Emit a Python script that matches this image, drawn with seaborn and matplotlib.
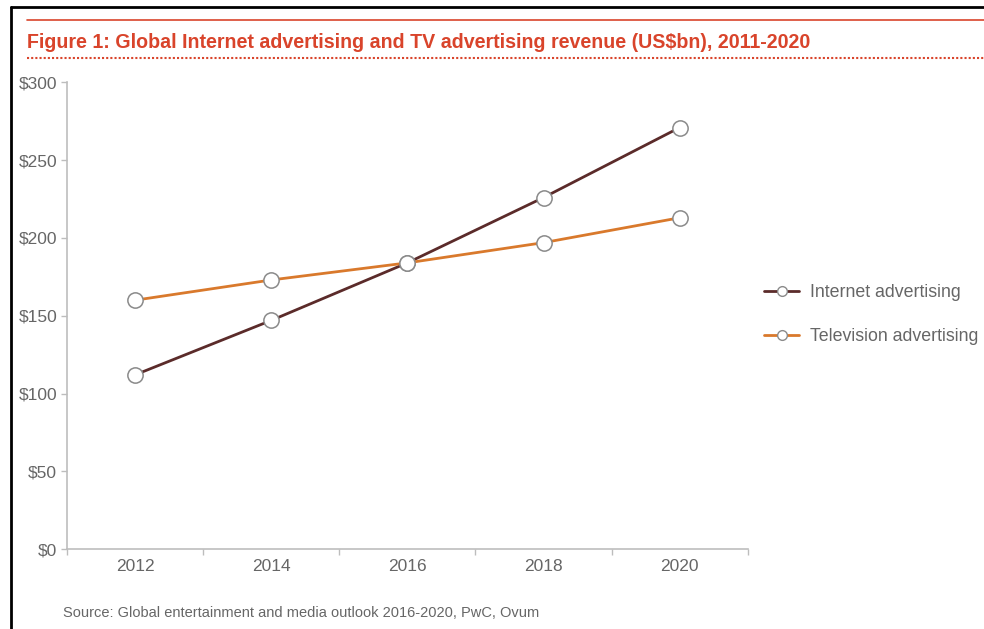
import pandas as pd
import matplotlib
matplotlib.use("Agg")
import matplotlib.pyplot as plt
from matplotlib.lines import Line2D
from matplotlib.ticker import FixedLocator
import seaborn as sns

years = ["2012", "2014", "2016", "2018", "2020"]
internet = [112, 147, 184, 226, 271]
television = [160, 173, 184, 197, 213]
series_names = ["Internet advertising", "Television advertising"]
y_ticks = [0, 50, 100, 150, 200, 250, 300]

df = pd.DataFrame({
    "year": years * 2,
    "revenue": internet + television,
    "series": [series_names[0]] * len(years) + [series_names[1]] * len(years),
})

sns.set_style("white")
plt.rcParams["font.family"] = ["Liberation Sans", "DejaVu Sans"]

colors = {"Internet advertising": "#5b2b2a", "Television advertising": "#d9792c"}
red = "#d9442b"
grey_text = "#666666"
axis_grey = "#bdbdbd"

fig = plt.figure(figsize=(9.84, 6.29), dpi=100)
ax = fig.add_axes([0.068, 0.127, 0.692, 0.742])

sns.lineplot(data=df, x="year", y="revenue", hue="series", palette=colors,
             marker="o", markersize=11, markerfacecolor="white",
             markeredgecolor="#8a8a8a", markeredgewidth=1.1,
             linewidth=2, ax=ax, legend=False, sort=False)

ax.set_xlim(-0.5, 4.5)
ax.set_ylim(0, 300)
ax.set_yticks(y_ticks)
ax.set_yticklabels([f"${v}" for v in y_ticks])
ax.xaxis.set_minor_locator(FixedLocator([i - 0.5 for i in range(len(years) + 1)]))
ax.tick_params(axis="x", which="major", bottom=True, length=0, pad=7, labelsize=12.5, labelcolor=grey_text)
ax.tick_params(axis="x", which="minor", bottom=True, length=4, color=axis_grey, width=1, direction="out")
ax.tick_params(axis="y", left=True, length=4, color=axis_grey, width=1, direction="out",
               labelsize=12.5, labelcolor=grey_text, pad=3)
ax.set_xlabel("")
ax.set_ylabel("")
for side in ["top", "right"]:
    ax.spines[side].set_visible(False)
for side in ["left", "bottom"]:
    ax.spines[side].set_color(axis_grey)
    ax.spines[side].set_linewidth(1.2)

handles = [Line2D([0], [0], color=colors[n], lw=2, marker="o", markersize=7,
                  markerfacecolor="white", markeredgecolor="#8a8a8a") for n in series_names]
fig.legend(handles, series_names, loc="center left", bbox_to_anchor=(0.76, 0.5),
           frameon=False, fontsize=12.8, labelcolor=grey_text, handlelength=2.0,
           labelspacing=1.55, handletextpad=0.6)

# title, rules and source
fig.text(0.027, 0.933, "Figure 1: Global Internet advertising and TV advertising revenue (US$bn), 2011-2020",
         color=red, fontsize=14.1, fontweight="bold", va="center", ha="left")
fig.add_artist(Line2D([0.027, 1.0], [0.968, 0.968], color=red, lw=1.2))
fig.add_artist(Line2D([0.027, 1.0], [0.908, 0.908], color=red, lw=1.5, linestyle=(0, (1, 1))))
fig.text(0.064, 0.025, "Source: Global entertainment and media outlook 2016-2020, PwC, Ovum",
         color=grey_text, fontsize=10.5, va="center", ha="left")

# black frame on left and top
fig.add_artist(Line2D([0.011, 0.011], [0.0, 0.989], color="black", lw=2))
fig.add_artist(Line2D([0.011, 1.0], [0.989, 0.989], color="black", lw=2))

fig.savefig("out.png", dpi=100, facecolor="white")
